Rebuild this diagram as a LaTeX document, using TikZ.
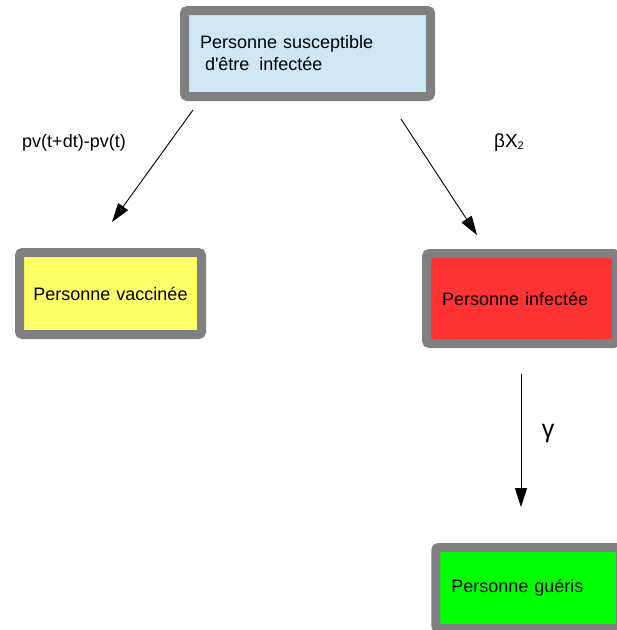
\documentclass[tikz,border=0pt]{standalone}
\usepackage{fontspec}
\setmainfont{Liberation Sans}
\usetikzlibrary{arrows.meta}
\definecolor{boxgray}{HTML}{808080}
\definecolor{cblue}{HTML}{CFE6F4}
\definecolor{cyellow}{HTML}{FFFF66}
\definecolor{cred}{HTML}{FF3333}
\definecolor{cgreen}{HTML}{00FF00}
\tikzset{
  statebox/.style={draw=boxgray, line width=9pt, rounded corners=3pt,
    inner xsep=15.5pt, inner ysep=0pt, align=left,
    font=\fontsize{18}{22}\selectfont},
  flow/.style={line width=0.9pt, -{Triangle[length=19pt,width=12pt]}},
  flowlabel/.style={font=\fontsize{18}{22}\selectfont}
}
\begin{document}
\begin{tikzpicture}[x=1pt,y=-1pt]
\useasboundingbox (0,0) rectangle (617,630);
\clip (0,0) rectangle (617,630);
\node[statebox, fill=cblue, minimum width=246pt, minimum height=86pt, text width=215pt] (s) at (307.5,53.5)
  {Personne susceptible\\\hspace*{5pt}d\textquotesingle être\hspace{10pt}infectée};
\node[statebox, fill=cyellow, minimum width=182pt, minimum height=82pt, inner xsep=5pt, text width=172pt, align=center] (v) at (110.5,293.5)
  {Personne vaccinée};
\node[statebox, fill=cred, minimum width=190pt, minimum height=90pt, text width=159pt] (i) at (521.5,298.5)
  {Personne infectée};
\node[statebox, fill=cgreen, minimum width=184.5pt, minimum height=81pt, text width=153.5pt] (g) at (528,588)
  {Personne guéris};
\coordinate (a1s) at (193,110);
\coordinate (a1e) at (112,222);
\coordinate (a2s) at (401,119);
\coordinate (a2e) at (477,235);
\coordinate (a3s) at (521,374);
\coordinate (a3e) at (521,507);
\draw[flow] (a1s) -- (a1e);
\draw[flow] (a2s) -- (a2e);
\draw[flow] (a3s) -- (a3e);
\node[flowlabel] (l1) at (74,143) {pv(t+dt)-pv(t)};
\node[font=\fontsize{19}{22}\selectfont] (l2) at (509,143) {βX\raisebox{-2pt}{\fontsize{11}{11}\selectfont 2}};
\node[font=\fontsize{25}{26}\selectfont] (l3) at (548,433) {γ};
\end{tikzpicture}
\end{document}
